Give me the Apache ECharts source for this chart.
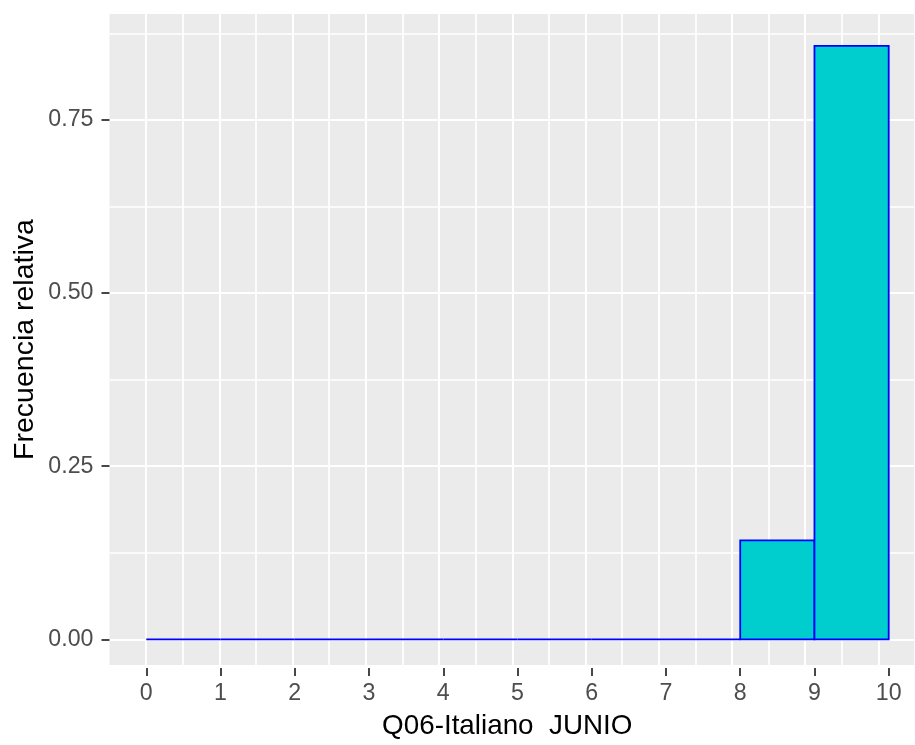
<!DOCTYPE html>
<html>
<head>
<meta charset="utf-8">
<script src="https://cdn.jsdelivr.net/npm/echarts@6/dist/echarts.min.js"></script>
<style>html,body{margin:0;padding:0;background:#fff;}#c{width:915px;height:745px;}</style>
</head>
<body>
<div id="c"></div>
<script>
const binStart = [0, 1, 2, 3, 4, 5, 6, 7, 8, 9];
const binEnd   = [1, 2, 3, 4, 5, 6, 7, 8, 9, 10];
const relFreq  = [0, 0, 0, 0, 0, 0, 0, 0, 0.1429, 0.8571];
const xTicks = [0, 1, 2, 3, 4, 5, 6, 7, 8, 9, 10];
const yTicks = [0, 0.25, 0.5, 0.75];
const xTitle = 'Q06-Italiano  JUNIO';
const yTitle = 'Frecuencia relativa';

const FONT = '"Liberation Sans", Arial, sans-serif';
const chart = echarts.init(document.getElementById('c'), null, {renderer: 'canvas'});

const data = binStart.map((s, i) => [s, binEnd[i], relFreq[i]]);

const hidden = {axisLine: {show: false}, axisTick: {show: false}, axisLabel: {show: false}, splitLine: {show: false}};

chart.setOption({
  animation: false,
  backgroundColor: '#ffffff',
  grid: [
    // panel: background + vertical grid lines
    {left: 109.5, right: -10.8, top: 14, bottom: 77, show: true, backgroundColor: '#EBEBEB', borderWidth: 0, containLabel: false},
    // horizontal grid lines
    {left: 109.5, right: -10.8, top: 33.45, bottom: 19.15, show: false, containLabel: false},
    // data grid
    {left: 146.3, right: 26.3, top: 33.45, bottom: 105.7, show: false, containLabel: false}
  ],
  xAxis: [
    {gridIndex: 0, type: 'value', min: -0.5, max: 10.5, interval: 1,
     axisLine: {show: false}, axisTick: {show: false}, axisLabel: {show: false},
     splitLine: {show: true, showMinLine: false, lineStyle: {color: '#FFFFFF', width: 1.7}},
     minorTick: {show: false, splitNumber: 2},
     minorSplitLine: {show: true, lineStyle: {color: '#FFFFFF', width: 2.1}},
     name: xTitle, nameLocation: 'middle', nameGap: 47,
     nameTextStyle: {fontFamily: FONT, fontSize: 27.8, color: '#000000', padding: [0, 10, 0, 0]}},
    Object.assign({gridIndex: 1, type: 'value', min: 0, max: 1}, hidden),
    {gridIndex: 2, type: 'value', min: 0, max: 10, interval: 1, offset: 28.7,
     axisLine: {show: false, onZero: false},
     axisTick: {show: true, length: 8, lineStyle: {color: '#333333', width: 1.8}},
     axisLabel: {show: true, margin: 14, fontFamily: FONT, fontSize: 23.2, color: '#4D4D4D',
       formatter: v => xTicks.includes(v) ? String(v) : ''},
     splitLine: {show: false}}
  ],
  yAxis: [
    {gridIndex: 0, type: 'value', min: 0, max: 1,
     axisLine: {show: false}, axisTick: {show: false}, axisLabel: {show: false}, splitLine: {show: false},
     name: yTitle, nameLocation: 'middle', nameGap: 70, nameRotate: 90,
     nameTextStyle: {fontFamily: FONT, fontSize: 28.5, color: '#000000'}},
    {gridIndex: 1, type: 'value', min: -0.125, max: 0.875, interval: 0.25,
     axisLine: {show: false}, axisTick: {show: false}, axisLabel: {show: false},
     splitLine: {show: true, showMinLine: false, lineStyle: {color: '#FFFFFF', width: 1.7}},
     minorTick: {show: false, splitNumber: 2},
     minorSplitLine: {show: true, lineStyle: {color: '#FFFFFF', width: 2.1}}},
    {gridIndex: 2, type: 'value', min: 0, max: 0.875, interval: 0.25, offset: 36.8,
     axisLine: {show: false, onZero: false},
     axisTick: {show: true, length: 8, customValues: yTicks, lineStyle: {color: '#333333', width: 1.8}},
     axisLabel: {show: true, margin: 16, customValues: yTicks, fontFamily: FONT, fontSize: 23.2, color: '#4D4D4D',
       formatter: v => v.toFixed(2)},
     splitLine: {show: false}}
  ],
  series: [{
    type: 'custom',
    xAxisIndex: 2, yAxisIndex: 2,
    clip: false,
    data: data,
    encode: {x: [0, 1], y: 2},
    renderItem: function (params, api) {
      const p0 = api.coord([api.value(0), api.value(2)]);
      const p1 = api.coord([api.value(1), 0]);
      return {
        type: 'rect',
        shape: {x: p0[0], y: p0[1], width: p1[0] - p0[0], height: p1[1] - p0[1]},
        style: {fill: '#00CDCD', stroke: '#0000FF', lineWidth: 1.8}
      };
    }
  }]
});
</script>
</body>
</html>
